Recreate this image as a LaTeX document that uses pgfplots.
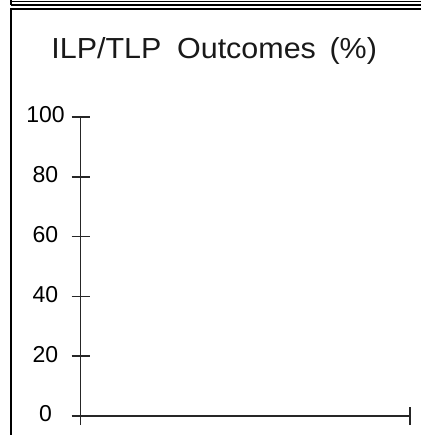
\documentclass[border=0pt]{standalone}
\usepackage{fontspec}
\setmainfont{Liberation Sans}
\usepackage{pgfplots}
\pgfplotsset{compat=1.18}
\begin{document}
\begin{tikzpicture}
\useasboundingbox (0pt,0pt) rectangle (421pt,435pt);
% frame remnants
\draw[line width=1.5pt] (11pt,433.5pt) -- (421pt,433.5pt);
\draw[line width=1.5pt] (11pt,430pt) -- (421pt,430pt);
\draw[line width=1.5pt] (11pt,435pt) -- (11pt,430pt);
\draw[line width=2pt] (11pt,0pt) -- (11pt,425.5pt) -- (421pt,425.5pt);
% title
\node[anchor=base west, inner sep=0pt, font=\fontsize{29}{29}\selectfont, text=black!90]
  at (51.2pt,376.7pt) {\scalebox{1.05}[1]{ILP/TLP\hspace{15pt}Outcomes\hspace{13pt}(\%)}};
\begin{axis}[
    at={(80.5pt,19pt)}, anchor=south west,
    scale only axis, width=329.5pt, height=299pt,
    xmin=0, xmax=1, ymin=0, ymax=100,
    axis x line=bottom, axis y line=left,
    axis line style={-, line width=1.5pt, black!85},
    xtick={0,1}, xticklabels={},
    ytick={0,20,40,60,80,100},
    tick align=center,
    major tick length=18pt,
    tick style={line width=1.5pt, black!85},
    /pgf/number format/assume math mode=true,
    yticklabel style={font=\fontsize{23}{23}\selectfont, anchor=center, inner sep=0pt, xshift=-26pt, yshift=2pt},
]
\end{axis}
\end{tikzpicture}
\end{document}
